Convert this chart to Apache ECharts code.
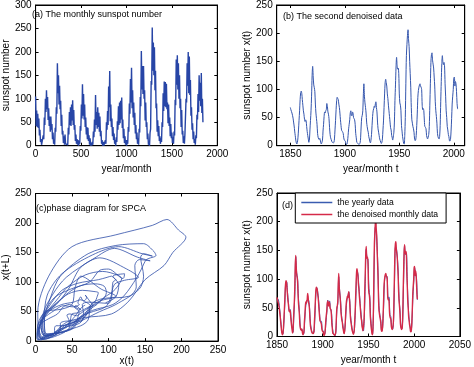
<!DOCTYPE html>
<html>
<head>
<meta charset="utf-8">
<script src="https://cdn.jsdelivr.net/npm/echarts@6/dist/echarts.min.js"></script>
<style>
html,body{margin:0;padding:0;background:#fff;}
#chart{width:474px;height:367px;}
</style>
</head>
<body>
<div id="chart"></div>
<script>
// ---------- DATA ----------
// (a) raw monthly sunspot number, sampled every 6 months from Jan 1850 (month index)
const rawMonthly = [
105,42,75,40,68,38,58,22,34,8,14,2,6,0,22,14,60,44,100,72,
118,78,104,55,80,42,62,30,62,34,46,14,28,4,10,2,38,30,82,68,
176,112,150,88,128,78,96,42,66,24,32,6,20,2,24,4,8,0,8,2,
38,24,72,44,82,42,88,54,97,44,76,34,44,10,24,4,14,2,12,0,
10,4,42,32,88,58,131,64,110,56,88,40,60,24,40,14,38,10,22,2,
16,0,6,0,8,2,30,18,56,30,108,44,72,36,82,40,70,30,62,20,
32,4,12,0,8,0,4,0,12,4,50,34,74,44,126,82,159,52,88,40,
58,20,40,12,26,4,12,0,18,8,52,34,84,44,92,48,96,56,103,38,
56,16,36,6,20,2,12,0,12,4,40,30,90,68,142,92,166,80,118,60,
92,44,70,26,44,14,28,4,16,2,36,28,104,84,202,120,170,110,170,100,
118,54,92,40,50,14,26,2,8,0,28,36,138,130,252,160,220,150,210,118,
160,80,90,30,54,20,42,10,20,4,16,8,50,40,112,74,137,84,136,82,
132,78,92,48,88,42,60,20,46,16,28,6,18,4,30,22,98,86,184,130,
193,120,176,100,150,80,100,40,76,24,32,6,20,4,26,24,100,92,176,128,
200,112,190,108,140,64,82,34,48,14,30,6,14,2,22,16,66,56,110,72,
150,96,134,84,155,70,100,50
];
const rawStepMonths = 6;

// (b)/(d) denoised monthly data, half-year samples from 1850.0
const denoised = [
68,64,61,58,54,49,42,35,26,18,10,5,3,6,14,28,45,62,82,94,
97,93,82,72,62,56,47,43,46,44,34,25,18,12,6,10,28,45,62,88,
125,141,122,108,103,96,74,58,48,38,22,15,12,11,13,10,5,3,3,10,
26,38,52,60,58,62,64,75,70,60,56,48,32,20,14,11,8,6,6,5,
6,12,28,45,64,80,86,84,82,74,68,58,46,36,28,26,26,22,14,10,
9,8,3,2,3,8,18,30,38,46,58,62,55,53,60,58,50,48,46,38,
22,14,6,5,4,3,2,2,5,14,35,50,54,62,90,110,88,76,68,58,
42,34,28,24,16,12,7,5,10,20,36,52,62,66,70,68,74,78,68,60,
42,30,24,18,12,9,6,4,6,12,28,44,68,92,112,118,112,106,92,84,
72,62,52,42,32,28,18,14,10,10,24,42,80,108,140,157,142,136,138,128,
92,76,72,62,36,26,16,10,4,3,18,50,110,160,180,196,206,188,176,150,
128,104,68,46,40,34,30,24,12,9,10,18,36,58,86,98,104,108,110,106,
104,100,72,64,66,62,44,34,34,30,18,14,12,12,20,34,72,110,148,162,
165,152,145,138,122,106,78,62,52,40,22,16,13,12,16,36,78,114,146,160,
148,144,148,142,110,88,62,50,34,28,20,16,9,8,12,26,48,74,88,100,
120,122,106,114,110,96,75,65
];
const denoisedStart = 1850;
const denoisedStep = 0.5;

// (d) yearly mean sunspot number 1850-2003
const yearly = [
66.5,64.5,54.1,39.0,20.6,6.7,4.3,22.7,54.8,93.8,
95.8,77.2,59.1,44.0,47.0,30.5,16.3,7.3,37.6,74.0,
139.0,111.2,101.6,66.2,44.7,17.0,11.3,12.4,3.4,6.0,
32.3,54.3,59.7,63.7,63.5,52.2,25.4,13.1,6.8,6.3,
7.1,35.6,73.0,85.1,78.0,64.0,41.8,26.2,26.7,12.1,
9.5,2.7,5.0,24.4,42.0,63.5,53.8,62.0,48.5,43.9,
18.6,5.7,3.6,1.4,9.6,47.4,57.1,103.9,80.6,63.6,
37.6,26.1,14.2,5.8,16.7,44.3,63.9,69.0,77.8,64.9,
35.7,21.2,11.1,5.7,8.7,36.1,79.7,114.4,109.6,88.8,
67.8,47.5,30.6,16.3,9.6,33.2,92.6,151.6,136.3,134.7,
83.9,69.4,31.5,13.9,4.4,38.0,141.7,190.2,184.8,159.0,
112.3,53.9,37.6,27.9,10.2,15.1,47.0,93.8,105.9,105.5,
104.5,66.6,68.9,38.0,34.5,15.5,12.6,27.5,92.5,155.4,
154.6,140.4,115.9,66.6,45.9,17.9,13.4,29.4,100.2,157.6,
142.6,145.7,94.3,54.6,29.9,17.5,8.6,21.5,64.3,93.3,
119.6,111.0,104.0,63.7
];
const yearlyStart = 1850.5;

// (c) phase diagram lag L (in half-year samples)
const lagSteps = 2;

// tick labels
const ticksA_x = [0, 500, 1000, 1500, 2000];
const ticksB_x = [1850, 1900, 1950, 2000];
const legendNames = ['the yearly data', 'the denoised monthly data'];

// ---------- BUILD ----------
const seriesA = rawMonthly.map((v, i) => [i * rawStepMonths, v]);
const seriesB = denoised.map((v, i) => [denoisedStart + i * denoisedStep, v]);
const seriesC = [];
for (let i = 0; i + lagSteps < denoised.length; i++) seriesC.push([denoised[i], denoised[i + lagSteps]]);
const seriesDy = yearly.map((v, i) => [yearlyStart + i, v]);

const FONT = 'Liberation Sans, Arial, Helvetica, sans-serif';
const BLACK = '#000';
const plain = v => String(v);

function label(extra) {
  return Object.assign({ color: BLACK, fontSize: 10, fontFamily: FONT, margin: 4, formatter: plain }, extra || {});
}
function tick(extra) {
  return Object.assign({ show: true, inside: true, length: 3, lineStyle: { color: BLACK, width: 1 } }, extra || {});
}
function baseAxis(extra) {
  return Object.assign({
    type: 'value',
    axisLine: { show: true, onZero: false, lineStyle: { color: BLACK, width: 1 } },
    axisTick: tick(),
    splitLine: { show: false },
    axisLabel: label(),
    nameTextStyle: { color: BLACK, fontFamily: FONT, fontSize: 10 },
    nameLocation: 'middle'
  }, extra);
}
function mirror(ax, pos, gi) {
  const m = Object.assign({}, ax);
  m.position = pos;
  m.name = '';
  m.gridIndex = gi;
  m.axisLabel = Object.assign({}, ax.axisLabel, { show: false });
  return m;
}

const grids = [
  { left: 30, top: 1.5, width: 187.3, height: 144.2 },
  { left: 276.7, top: 3, width: 188, height: 142.7 },
  { left: 30, top: 193.5, width: 188, height: 151 },
  { left: 277, top: 193, width: 187.7, height: 143.5 }
].map(g => Object.assign({ show: true, borderColor: BLACK, borderWidth: 1, backgroundColor: '#fff' }, g));

const xA = baseAxis({ gridIndex: 0, position: 'bottom', min: 0, max: 2000, interval: 500, name: 'year/month', nameGap: 19 });
const yA = baseAxis({ gridIndex: 0, position: 'left', min: 0, max: 300, interval: 50, name: 'sunspot number', nameGap: 19 });
const xB = baseAxis({ gridIndex: 1, position: 'bottom', min: 1837.5, max: 2010, name: 'year/month t', nameGap: 19,
  axisLabel: label({ customValues: ticksB_x }), axisTick: tick({ customValues: ticksB_x }) });
const yB = baseAxis({ gridIndex: 1, position: 'left', min: 0, max: 250, interval: 50, name: 'sunspot number x(t)', nameGap: 18 });
const xC = baseAxis({ gridIndex: 2, position: 'bottom', min: 0, max: 250, interval: 50, name: 'x(t)', nameGap: 11 });
const yC = baseAxis({ gridIndex: 2, position: 'left', min: 0, max: 250, interval: 50, name: 'x(t+L)', nameGap: 19 });
const xD = baseAxis({ gridIndex: 3, position: 'bottom', min: 1850, max: 2050, interval: 50, name: 'year/month t', nameGap: 19 });
const yD = baseAxis({ gridIndex: 3, position: 'left', min: 0, max: 250, interval: 50, name: 'sunspot number x(t)', nameGap: 16 });

const xAxes = [xA, xB, xC, xD, mirror(xA, 'top', 0), mirror(xB, 'top', 1), mirror(xC, 'top', 2), mirror(xD, 'top', 3)];
const yAxes = [yA, yB, yC, yD, mirror(yA, 'right', 0), mirror(yB, 'right', 1), mirror(yC, 'right', 2), mirror(yD, 'right', 3)];

function txt(left, top, text, size) {
  return { type: 'text', left: left, top: top, style: { text: text, fill: BLACK, fontSize: size, fontFamily: FONT } };
}

const option = {
  animation: false,
  backgroundColor: '#fff',
  grid: grids,
  xAxis: xAxes,
  yAxis: yAxes,
  legend: {
    data: legendNames,
    orient: 'vertical',
    left: 295.3,
    top: 193,
    backgroundColor: '#fff',
    borderColor: BLACK,
    borderWidth: 1,
    borderRadius: 0,
    padding: [5, 8, 4, 6],
    itemGap: 3,
    itemWidth: 31,
    itemHeight: 1.5,
    icon: 'rect',
    textStyle: { color: BLACK, fontSize: 8.6, fontFamily: FONT },
    selectedMode: false
  },
  graphic: [
    txt(32, 10, '(a) The monthly sunspot number', 9),
    txt(283, 12, '(b) The second denoised data', 9),
    txt(36, 204, '(c)phase diagram for SPCA', 9),
    txt(282, 201, '(d)', 9)
  ],
  series: [
    { type: 'line', xAxisIndex: 0, yAxisIndex: 0, data: seriesA, symbol: 'none', lineStyle: { color: '#2745a6', width: 1.4 }, silent: true },
    { type: 'line', xAxisIndex: 1, yAxisIndex: 1, data: seriesB, symbol: 'none', smooth: 0.3, lineStyle: { color: '#3556ad', width: 1 }, silent: true },
    { type: 'line', xAxisIndex: 2, yAxisIndex: 2, data: seriesC, symbol: 'none', smooth: 0.3, lineStyle: { color: '#2f4ea8', width: 0.8 }, silent: true },
    { type: 'line', name: legendNames[0], xAxisIndex: 3, yAxisIndex: 3, data: seriesDy, symbol: 'none', smooth: 0.3, itemStyle: { color: '#3a5cb0' }, lineStyle: { color: '#3a5cb0', width: 1 }, silent: true },
    { type: 'line', name: legendNames[1], xAxisIndex: 3, yAxisIndex: 3, data: seriesB, symbol: 'none', smooth: 0.3, itemStyle: { color: '#d52a48' }, lineStyle: { color: '#d52a48', width: 1.4 }, silent: true }
  ]
};

const chart = echarts.init(document.getElementById('chart'), null, { renderer: 'canvas' });
chart.setOption(option);
</script>
</body>
</html>
